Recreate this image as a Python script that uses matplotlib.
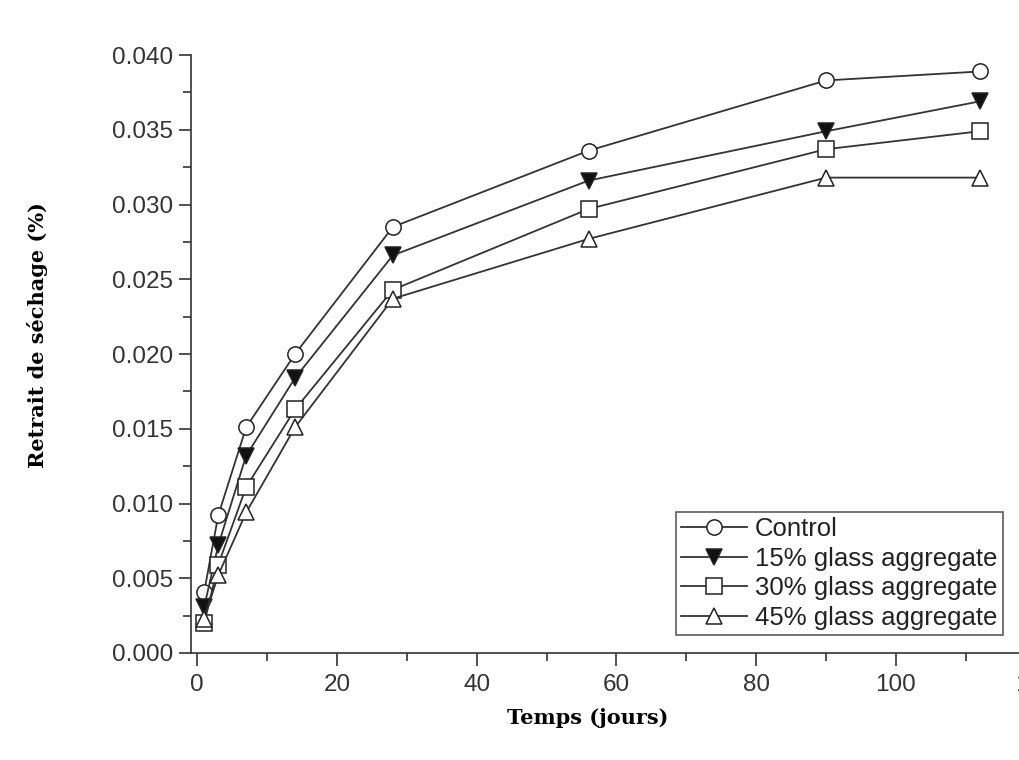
import matplotlib.pyplot as plt
from matplotlib.ticker import MultipleLocator

# Drying shrinkage vs time
days = [1, 3, 7, 14, 28, 56, 90, 112]
control = [0.0041, 0.0092, 0.0151, 0.0200, 0.0285, 0.0336, 0.0383, 0.0389]
glass15 = [0.0031, 0.0072, 0.0132, 0.0184, 0.0266, 0.0316, 0.0349, 0.0369]
glass30 = [0.0020, 0.0059, 0.0111, 0.0163, 0.0243, 0.0297, 0.0337, 0.0349]
glass45 = [0.0023, 0.0052, 0.0094, 0.0151, 0.0237, 0.0277, 0.0318, 0.0318]

labels = ['Control', '15% glass aggregate', '30% glass aggregate', '45% glass aggregate']
markers = ['o', 'v', 's', '^']
fills = ['white', '#111111', 'white', 'white']

plt.rcParams['font.family'] = ['Liberation Sans', 'DejaVu Sans']

fig = plt.figure(figsize=(10.19, 7.6), dpi=100)
ax = fig.add_axes([0.1874, 0.1408, 0.829, 0.7868])

line_col = '#333333'
for ys, lab, m, fc in zip([control, glass15, glass30, glass45], labels, markers, fills):
    ax.plot(days, ys, color=line_col, lw=1.3, marker=m, markersize=11,
            markerfacecolor=fc, markeredgecolor='#222222', markeredgewidth=1.1,
            label=lab, clip_on=False)

ax.set_xlim(-0.9, 120)
ax.set_ylim(0, 0.040)
ax.xaxis.set_major_locator(MultipleLocator(20))
ax.xaxis.set_minor_locator(MultipleLocator(10))
ax.yaxis.set_major_locator(MultipleLocator(0.005))
ax.yaxis.set_minor_locator(MultipleLocator(0.0025))
ax.yaxis.set_major_formatter(plt.FormatStrFormatter('%.3f'))

for s in ['top', 'right']:
    ax.spines[s].set_visible(False)
for s in ['left', 'bottom']:
    ax.spines[s].set_color('#333333')
    ax.spines[s].set_linewidth(1.2)

ax.tick_params(which='major', direction='out', length=9, width=1.2,
               color='#333333', labelcolor='#333333', labelsize=17.5, pad=4)
ax.tick_params(axis='x', which='major', pad=6)
ax.tick_params(which='minor', direction='out', length=6, width=1.2, color='#333333')

fig.text(0.037, 0.559, 'Retrait de séchage (%)', rotation=90, ha='center', va='center',
         family='DejaVu Serif', fontweight='bold', fontsize=15)
fig.text(0.577, 0.055, 'Temps (jours)', ha='center', va='center',
         family='DejaVu Serif', fontweight='bold', fontsize=15)

leg = ax.legend(loc='lower right', bbox_to_anchor=(0.984, 0.1645),
                bbox_transform=fig.transFigure, fontsize=18.5, frameon=True,
                fancybox=False, edgecolor='#333333', handlelength=2.6,
                handletextpad=0.3, labelspacing=0.22, borderpad=0.2,
                borderaxespad=0)
leg.get_frame().set_linewidth(1.2)
for t in leg.get_texts():
    t.set_color('#222222')

fig.savefig('out.png', dpi=100)
